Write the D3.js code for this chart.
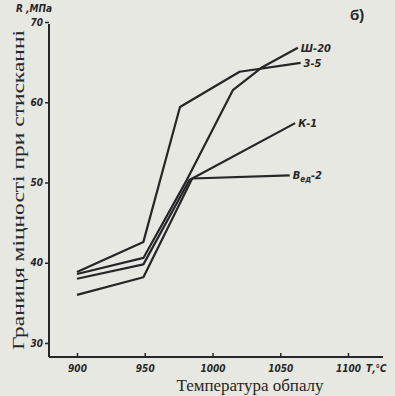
<!DOCTYPE html>
<html>
<head>
<meta charset="utf-8">
<script src="https://cdn.jsdelivr.net/npm/d3@7"></script>
<style>
  html, body { margin: 0; padding: 0; background: #e8e8e2; }
  svg { display: block; }
  .tick text { font-family: "Liberation Sans Narrow", "DejaVu Sans Condensed", sans-serif; font-weight: bold; font-style: italic; }
</style>
</head>
<body>
<div id="chart"></div>
<script>
// Strength vs firing temperature (scanned figure, panel б)
const xTicks = [900, 950, 1000, 1050, 1100];
const yTicks = [30, 40, 50, 60, 70];

const seriesNames = ['Ш-20', '3-5', 'К-1', 'Вед-2'];
const temp_sh20 = [900, 949, 981, 1015, 1037, 1063];
const val_sh20  = [38.6, 40.6, 50.3, 61.5, 64.4, 66.8];
const temp_35   = [900, 949, 976, 1020, 1065];
const val_35    = [38.85, 42.6, 59.4, 63.8, 64.9];
const temp_k1   = [900, 949, 983, 1061];
const val_k1    = [38.0, 39.8, 50.3, 57.4];
const temp_bed2 = [900, 949, 985, 1057];
const val_bed2  = [36.0, 38.2, 50.5, 50.9];

const width = 395, height = 396;
const ink = '#262626';

const svg = d3.select('#chart').append('svg')
    .attr('width', width)
    .attr('height', height);

svg.append('rect').attr('width', width).attr('height', height).attr('fill', '#e8e8e2');

const x = d3.scaleLinear().domain([900, 1100]).range([77, 348]);
const y = d3.scaleLinear().domain([30, 70]).range([343, 22]);

const axisX0 = x.invert(49), axisX1 = x.invert(383);
const axisY0 = y.invert(357), axisY1 = y.invert(24);

// axis lines
svg.append('line')
    .attr('x1', x(axisX0)).attr('x2', x(axisX0))
    .attr('y1', y(axisY0)).attr('y2', y(axisY1))
    .attr('stroke', ink).attr('stroke-width', 2);
svg.append('line')
    .attr('x1', x(axisX0)).attr('x2', x(axisX1))
    .attr('y1', y(axisY0)).attr('y2', y(axisY0))
    .attr('stroke', ink).attr('stroke-width', 2);

const gy = svg.append('g')
    .attr('transform', `translate(${x(axisX0)},0)`)
    .call(d3.axisLeft(y).tickValues(yTicks).tickSize(4).tickPadding(2));
gy.select('.domain').remove();
gy.selectAll('.tick line').attr('stroke', ink).attr('stroke-width', 1.5);
gy.selectAll('.tick text').attr('fill', ink).style('font-size', '10px');

const gx = svg.append('g')
    .attr('transform', `translate(0,${y(axisY0)})`)
    .call(d3.axisBottom(x).tickValues(xTicks).tickFormat(d3.format('d')).tickSize(-4).tickPadding(8));
gx.select('.domain').remove();
gx.selectAll('.tick line').attr('stroke', ink).attr('stroke-width', 1.5);
gx.selectAll('.tick text').attr('fill', ink).style('font-size', '10px');

// curves
const series = [
    { name: seriesNames[0], t: temp_sh20, v: val_sh20 },
    { name: seriesNames[1], t: temp_35, v: val_35 },
    { name: seriesNames[2], t: temp_k1, v: val_k1 },
    { name: seriesNames[3], t: temp_bed2, v: val_bed2 }
];

const line = d3.line().x(d => x(d[0])).y(d => y(d[1]));

svg.selectAll('.curve')
    .data(series)
    .join('path')
    .attr('class', 'curve')
    .attr('d', s => line(s.t.map((t, i) => [t, s.v[i]])))
    .attr('fill', 'none')
    .attr('stroke', ink)
    .attr('stroke-width', 2.2)
    .attr('stroke-linejoin', 'round');

// curve labels at line ends
const labelFont = '"Liberation Sans Narrow", "DejaVu Sans Condensed", sans-serif';
series.forEach(s => {
    const n = s.t.length - 1;
    const t = svg.append('text')
        .attr('x', x(s.t[n]) + 3)
        .attr('y', y(s.v[n]) + 4)
        .attr('fill', ink)
        .style('font-family', labelFont)
        .style('font-weight', 'bold')
        .style('font-style', 'italic')
        .style('font-size', '11px');
    if (s.name === 'Вед-2') {
        t.append('tspan').text('В');
        t.append('tspan').attr('dy', 3).style('font-size', '8px').text('ед');
        t.append('tspan').attr('dy', -3).text('-2');
    } else {
        t.text(s.name);
    }
});

// axis titles
svg.append('text')
    .attr('x', 16).attr('y', 12)
    .attr('fill', ink)
    .style('font-family', labelFont)
    .style('font-weight', 'bold')
    .style('font-style', 'italic')
    .style('font-size', '10px')
    .text('R ,МПа');

svg.append('text')
    .attr('x', 366).attr('y', 372)
    .attr('fill', ink)
    .style('font-family', labelFont)
    .style('font-weight', 'bold')
    .style('font-style', 'italic')
    .style('font-size', '10px')
    .text('Т,°С');

svg.append('text')
    .attr('x', 250).attr('y', 391)
    .attr('text-anchor', 'middle')
    .attr('fill', ink)
    .style('font-family', '"Liberation Serif", "DejaVu Serif", serif')
    .style('font-size', '17px')
    .text('Температура обпалу');

svg.append('text')
    .attr('transform', 'translate(24,190) rotate(-90)')
    .attr('text-anchor', 'middle')
    .attr('textLength', 320)
    .attr('lengthAdjust', 'spacingAndGlyphs')
    .attr('fill', ink)
    .style('font-family', '"Liberation Serif", "DejaVu Serif", serif')
    .style('font-size', '17px')
    .text('Границя міцності при стисканні');

svg.append('text')
    .attr('x', 350).attr('y', 20)
    .attr('fill', ink)
    .style('font-family', '"Liberation Sans", sans-serif')
    .style('font-weight', 'bold')
    .style('font-size', '15px')
    .text('б)');
</script>
</body>
</html>
